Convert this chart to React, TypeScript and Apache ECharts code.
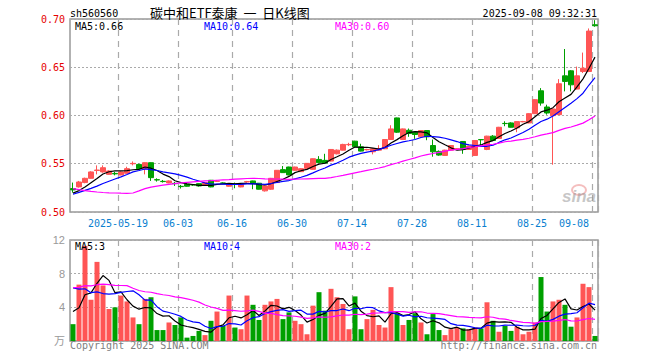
import React, { useEffect, useRef } from 'react';
import * as echarts from 'echarts';

// ---------- data ----------
const dates = [
  '2025-05-07','2025-05-08','2025-05-09','2025-05-12','2025-05-13','2025-05-14','2025-05-15','2025-05-16',
  '2025-05-19','2025-05-20','2025-05-21','2025-05-22','2025-05-23','2025-05-26','2025-05-27','2025-05-28','2025-05-29','2025-05-30',
  '2025-06-03','2025-06-04','2025-06-05','2025-06-06','2025-06-09','2025-06-10','2025-06-11','2025-06-12','2025-06-13',
  '2025-06-16','2025-06-17','2025-06-18','2025-06-19','2025-06-20','2025-06-23','2025-06-24','2025-06-25','2025-06-26','2025-06-27',
  '2025-06-30','2025-07-01','2025-07-02','2025-07-03','2025-07-04','2025-07-07','2025-07-08','2025-07-09','2025-07-10','2025-07-11',
  '2025-07-14','2025-07-15','2025-07-16','2025-07-17','2025-07-18','2025-07-21','2025-07-22','2025-07-23','2025-07-24','2025-07-25',
  '2025-07-28','2025-07-29','2025-07-30','2025-07-31','2025-08-01','2025-08-04','2025-08-05','2025-08-06','2025-08-07','2025-08-08',
  '2025-08-11','2025-08-12','2025-08-13','2025-08-14','2025-08-15','2025-08-18','2025-08-19','2025-08-20','2025-08-21','2025-08-22',
  '2025-08-25','2025-08-26','2025-08-27','2025-08-28','2025-08-29','2025-09-01','2025-09-02','2025-09-03','2025-09-04','2025-09-05',
  '2025-09-08',
];

const open = [
  0.5243,0.5260,0.5305,0.5349,0.5430,0.5415,0.5390,0.5400,0.5384,0.5401,
  0.5500,0.5493,0.5449,0.5511,0.5335,0.5318,0.5301,0.5297,0.5266,0.5287,
  0.5283,0.5294,0.5280,0.5329,0.5318,0.5301,0.5267,0.5290,0.5260,0.5311,
  0.5322,0.5298,0.5219,0.5236,0.5305,0.5439,0.5466,0.5432,0.5418,0.5452,
  0.5442,0.5545,0.5535,0.5528,0.5603,0.5641,0.5697,0.5734,0.5676,0.5645,
  0.5624,0.5641,0.5655,0.5751,0.5975,0.5751,0.5847,0.5827,0.5779,0.5844,
  0.5689,0.5628,0.5586,0.5641,0.5652,0.5731,0.5648,0.5586,0.5751,0.5648,
  0.5786,0.5762,0.5918,0.5923,0.5872,0.5935,0.5923,0.6019,0.6256,0.6088,
  0.5999,0.6009,0.6411,0.6463,0.6274,0.6456,0.6456,0.6940,
];
const close = [
  0.5229,0.5311,0.5349,0.5415,0.5435,0.5459,0.5425,0.5395,0.5415,0.5449,
  0.5504,0.5449,0.5511,0.5356,0.5332,0.5315,0.5322,0.5294,0.5263,0.5267,
  0.5280,0.5270,0.5305,0.5260,0.5322,0.5298,0.5294,0.5287,0.5287,0.5315,
  0.5294,0.5236,0.5270,0.5349,0.5432,0.5408,0.5384,0.5466,0.5449,0.5504,
  0.5552,0.5511,0.5507,0.5648,0.5641,0.5700,0.5700,0.5676,0.5631,0.5648,
  0.5655,0.5655,0.5751,0.5861,0.5827,0.5861,0.5813,0.5803,0.5844,0.5779,
  0.5624,0.5590,0.5641,0.5689,0.5655,0.5648,0.5683,0.5741,0.5748,0.5786,
  0.5741,0.5878,0.5916,0.5878,0.5937,0.5937,0.6019,0.6164,0.6129,0.6026,
  0.6067,0.6329,0.6353,0.6318,0.6411,0.6490,0.6875,0.6930,
];
const low = [
  0.5201,0.5253,0.5298,0.5346,0.5390,0.5408,0.5384,0.5380,0.5380,0.5397,
  0.5483,0.5445,0.5390,0.5322,0.5315,0.5305,0.5298,0.5270,0.5243,0.5263,
  0.5270,0.5263,0.5277,0.5256,0.5311,0.5290,0.5263,0.5246,0.5256,0.5308,
  0.5236,0.5233,0.5212,0.5229,0.5301,0.5404,0.5380,0.5428,0.5415,0.5449,
  0.5439,0.5507,0.5504,0.5524,0.5597,0.5638,0.5683,0.5673,0.5628,0.5638,
  0.5597,0.5638,0.5652,0.5748,0.5820,0.5748,0.5779,0.5758,0.5776,0.5744,
  0.5573,0.5583,0.5583,0.5638,0.5645,0.5603,0.5645,0.5583,0.5689,0.5641,
  0.5738,0.5758,0.5889,0.5875,0.5827,0.5930,0.5920,0.6016,0.6102,0.6009,
  0.5490,0.6005,0.6250,0.6250,0.6270,0.6440,0.6450,0.6920,
];
const high = [
  0.5305,0.5322,0.5356,0.5422,0.5483,0.5483,0.5432,0.5415,0.5422,0.5469,
  0.5524,0.5500,0.5514,0.5514,0.5349,0.5332,0.5328,0.5311,0.5280,0.5294,
  0.5290,0.5298,0.5311,0.5332,0.5332,0.5308,0.5298,0.5305,0.5290,0.5322,
  0.5325,0.5301,0.5274,0.5353,0.5435,0.5476,0.5469,0.5469,0.5456,0.5507,
  0.5555,0.5579,0.5603,0.5652,0.5648,0.5707,0.5717,0.5738,0.5707,0.5655,
  0.5659,0.5693,0.5755,0.5899,0.5978,0.5865,0.5865,0.5834,0.5847,0.5847,
  0.5751,0.5638,0.5645,0.5693,0.5662,0.5734,0.5686,0.5744,0.5755,0.5790,
  0.5797,0.5882,0.5940,0.5930,0.5940,0.5944,0.6023,0.6168,0.6284,0.6112,
  0.6071,0.6377,0.6689,0.6470,0.6507,0.6652,0.6902,0.6988,
];
const volume = [
  2.0,6.7,11.3,4.9,9.4,6.6,3.8,4.0,5.4,4.7,
  2.8,2.0,5.0,5.2,1.3,1.3,2.2,1.9,2.8,0.4,
  0.6,1.2,0.7,2.4,3.5,1.8,5.4,1.6,1.4,5.4,
  4.3,2.5,4.3,4.7,5.0,2.6,3.4,2.4,2.0,0.8,
  4.2,5.8,3.6,6.2,5.2,4.4,1.4,5.3,1.4,2.6,
  3.7,1.9,1.6,6.4,3.3,1.9,2.5,3.3,2.2,0.8,
  3.2,1.3,0.7,1.4,1.6,1.5,1.4,1.6,1.5,4.6,
  2.4,1.1,1.8,1.2,1.7,0.8,1.1,2.2,7.6,3.5,
  4.7,4.9,4.3,1.7,2.8,6.8,6.4,0.6,
];
// estimated sessions before the first visible bar (only feed the moving averages)
const priorClose = [
  0.566,0.565,0.566,0.562,0.560,0.552,0.546,0.548,0.546,0.543,
  0.478,0.482,0.490,0.500,0.503,0.508,0.507,0.505,0.508,0.510,
  0.512,0.514,0.520,0.521,0.519,0.518,0.517,0.519,0.521,
];
const priorVolume = [
  5.5,5.0,6.0,5.2,4.8,5.5,6.5,5.8,5.2,12.0,
  10.0,9.5,7.0,6.0,5.5,5.0,6.5,5.5,5.0,5.5,
  8.0,11.0,9.5,8.5,8.5,4.5,3.5,3.8,3.7,
];
const labelDates = ['2025-05-19','2025-06-03','2025-06-16','2025-06-30','2025-07-14','2025-07-28','2025-08-11','2025-08-25','2025-09-08'];
const priceTicks = [0.5, 0.7, 0.05];
const volTicks = [0, 12, 4];

// ---------- helpers ----------
const RED = '#ff5555';
const GREEN = '#00a000';
const MONO = '"DejaVu Sans Mono", "Liberation Mono", monospace';

function movingAvg(prior: number[], vals: number[], n: number) {
  const all = prior.concat(vals);
  return vals.map((_, i) => {
    const end = prior.length + i;
    let s = 0;
    for (let k = end - n + 1; k <= end; k++) s += all[k];
    return +(s / n).toFixed(4);
  });
}

function buildOption() {
  const labelIdx = new Set(labelDates.map((d) => dates.indexOf(d)));
  const firstLabel = dates.indexOf(labelDates[0]);
  const ma5 = movingAvg(priorClose, close, 5);
  const ma10 = movingAvg(priorClose, close, 10);
  const ma30 = movingAvg(priorClose, close, 30);
  const vma5 = movingAvg(priorVolume, volume, 5);
  const vma10 = movingAvg(priorVolume, volume, 10);
  const vma30 = movingAvg(priorVolume, volume, 30);
  const last = dates.length - 1;
  const candles = dates.map((_, i) => [open[i], close[i], low[i], high[i]]);
  const volBars = volume.map((v, i) => ({ value: v, itemStyle: { color: close[i] >= open[i] ? RED : GREEN } }));

  const vSplit = { show: true, interval: (i: number) => labelIdx.has(i), lineStyle: { color: '#aaa', type: [6, 5], width: 1.2 } };
  const hSplit = { show: true, lineStyle: { color: '#aaa', type: [2, 2], width: 1 } };
  const lineSeries = (name: string, data: number[], color: string, xi: number) => ({
    name, type: 'line', data, xAxisIndex: xi, yAxisIndex: xi, showSymbol: false, symbol: 'none',
    lineStyle: { color, width: 1.2 }, z: 5, silent: true,
  });
  const text = (t: string, x: number, y: number, fill: string, font: string, align = 'left') => ({
    type: 'text', x, y, silent: true, z: 100,
    style: { text: t, fill, font, textAlign: align, textVerticalAlign: 'middle' },
  });

  return {
    animation: false,
    backgroundColor: '#ffffff',
    grid: [
      { left: 70, top: 19, width: 528, height: 193, show: true, borderColor: '#999', borderWidth: 1.5 },
      { left: 70, top: 240, width: 528, height: 101, show: true, borderColor: '#999', borderWidth: 1.5 },
    ],
    xAxis: [
      {
        type: 'category', gridIndex: 0, data: dates, boundaryGap: true,
        axisLine: { show: false }, axisTick: { show: false },
        axisLabel: {
          interval: (i: number) => labelIdx.has(i),
          formatter: (v: string, i: number) => (i === firstLabel ? v : v.slice(5)),
          color: '#0a7fd0', fontFamily: MONO, fontSize: 10, margin: 6,
          padding: [0, 6, 0, 0], alignMaxLabel: 'right',
        },
        splitLine: vSplit,
      },
      {
        type: 'category', gridIndex: 1, data: dates, boundaryGap: true,
        axisLine: { show: false }, axisTick: { show: false }, axisLabel: { show: false },
        splitLine: vSplit,
      },
    ],
    yAxis: [
      {
        type: 'value', gridIndex: 0, min: priceTicks[0], max: priceTicks[1], interval: priceTicks[2],
        axisLine: { show: false }, axisTick: { show: false },
        axisLabel: { formatter: (v: number) => v.toFixed(2), color: '#e60000', fontFamily: MONO, fontSize: 10, margin: 5 },
        splitLine: hSplit,
      },
      {
        type: 'value', gridIndex: 1, min: volTicks[0], max: volTicks[1], interval: volTicks[2],
        axisLine: { show: false }, axisTick: { show: false },
        axisLabel: { formatter: (v: number) => (v === 0 ? '' : String(v)), color: '#999', fontFamily: '"Liberation Sans", Arial, sans-serif', fontSize: 11, margin: 5 },
        splitLine: hSplit,
      },
    ],
    series: [
      {
        type: 'candlestick', data: candles, xAxisIndex: 0, yAxisIndex: 0, barWidth: 5, silent: true,
        itemStyle: { color: RED, color0: GREEN, borderColor: RED, borderColor0: GREEN, borderWidth: 1 },
      },
      lineSeries('MA5', ma5, '#000000', 0),
      lineSeries('MA10', ma10, '#0000ff', 0),
      lineSeries('MA30', ma30, '#ff00ff', 0),
      { type: 'bar', data: volBars, xAxisIndex: 1, yAxisIndex: 1, barWidth: 5, silent: true },
      lineSeries('VMA5', vma5, '#000000', 1),
      lineSeries('VMA10', vma10, '#0000ff', 1),
      lineSeries('VMA30', vma30, '#ff00ff', 1),
    ],
    graphic: [
      text('sh560560', 70, 13, '#000', `10px ${MONO}`),
      text('碳中和ETF泰康  一  日K线图', 150, 12.5, '#000', '13px "Noto Sans CJK SC"'),
      text('2025-09-08 09:32:31', 597, 13, '#000', `10px ${MONO}`, 'right'),
      text(`MA5:${ma5[last].toFixed(2)}`, 75, 26, '#000', `10px ${MONO}`),
      text(`MA10:${ma10[last].toFixed(2)}`, 204, 26, '#0000ff', `10px ${MONO}`),
      text(`MA30:${ma30[last].toFixed(2)}`, 335, 26, '#ff00ff', `10px ${MONO}`),
      text(`MA5:${Math.floor(vma5[last])}`, 75, 246.5, '#000', `10px ${MONO}`),
      text(`MA10:${Math.floor(vma10[last])}`, 204, 246.5, '#0000ff', `10px ${MONO}`),
      text(`MA30:${Math.floor(vma30[last])}`, 335, 246.5, '#ff00ff', `10px ${MONO}`),
      text('万', 65, 340, '#999', '11px "Noto Sans CJK SC"', 'right'),
      text('Copyright 2025 SINA.COM', 70, 345.5, '#808080', `10px ${MONO}`),
      text('http://finance.sina.com.cn', 597, 345.5, '#808080', `10px ${MONO}`, 'right'),
      {
        type: 'ellipse', silent: true, z: 1,
        shape: { cx: 579, cy: 190, rx: 7, ry: 5 },
        style: { fill: 'none', stroke: 'rgba(230,110,110,0.45)', lineWidth: 2 },
      },
      text('sina', 596, 196, 'rgba(150,150,150,0.55)', 'italic bold 17px "Liberation Sans", Arial, sans-serif', 'right'),
    ],
  };
}

export default function App() {
  const ref = useRef<HTMLDivElement>(null);
  useEffect(() => {
    document.body.style.margin = '0';
    const chart = echarts.init(ref.current as HTMLDivElement, null, { renderer: 'svg' });
    chart.setOption(buildOption() as any);
    return () => chart.dispose();
  }, []);
  return <div ref={ref} style={{ width: 660, height: 360, background: '#fff' }} />;
}
